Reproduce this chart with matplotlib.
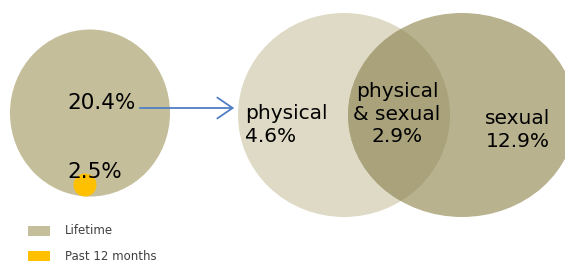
import matplotlib.pyplot as plt
from matplotlib.patches import Ellipse, Rectangle

# values shown on the chart
lifetime = 20.4
past_12_months = 2.5
physical_only = 4.6
physical_and_sexual = 2.9
sexual_only = 12.9
legend_labels = ["Lifetime", "Past 12 months"]

tan = "#C4BE9A"
orange = "#FFC000"
venn_left = "#DEDAC5"
venn_right = "#B8B28E"
venn_both = "#A9A27B"
arrow_blue = "#4F7EC4"

fig = plt.figure(figsize=(5.65, 2.64), dpi=100)
ax = fig.add_axes([0, 0, 1, 1])
ax.set_xlim(0, 565)
ax.set_ylim(264, 0)
ax.axis("off")

# left: lifetime circle with past-12-months dot
ax.add_patch(Ellipse((90, 113), 160, 167, color=tan, lw=0))
ax.add_patch(Ellipse((85, 185), 23, 23, color=orange, lw=0))
ax.text(67, 103, f"{lifetime}%", fontsize=15.5, va="center", ha="left", color="black")
ax.text(67, 172, f"{past_12_months}%", fontsize=15.5, va="center", ha="left", color="black")

# arrow to the breakdown
ax.annotate("", xy=(237, 108), xytext=(137, 108),
            arrowprops=dict(arrowstyle="->,head_length=1.1,head_width=0.75",
                            color=arrow_blue, lw=1.3))

# venn of lifetime by type
left = Ellipse((344, 115), 212, 204, color=venn_left, lw=0)
right = Ellipse((462, 115), 228, 204, color=venn_right, lw=0)
ax.add_patch(left)
ax.add_patch(right)
both = Ellipse((462, 115), 228, 204, color=venn_both, lw=0)
ax.add_patch(both)
both.set_clip_path(Ellipse((344, 115), 212, 204, transform=ax.transData))

ax.text(245, 125, f"physical\n{physical_only}%", fontsize=14.5, ha="left", va="center",
        linespacing=1.3)
ax.text(397, 114, f"physical\n& sexual\n{physical_and_sexual}%", fontsize=14.5,
        ha="center", va="center", linespacing=1.25)
ax.text(518, 130, f"sexual\n{sexual_only}%", fontsize=14.5, ha="center", va="center",
        linespacing=1.3)

# legend
for i, (lab, c) in enumerate(zip(legend_labels, [tan, orange])):
    y = 231 + i * 25
    ax.add_patch(Rectangle((28, y - 5), 22, 10, color=c, lw=0))
    ax.text(65, y, lab, fontsize=8.5, va="center", ha="left", color="#404040")

fig.savefig("out.png", dpi=100)
